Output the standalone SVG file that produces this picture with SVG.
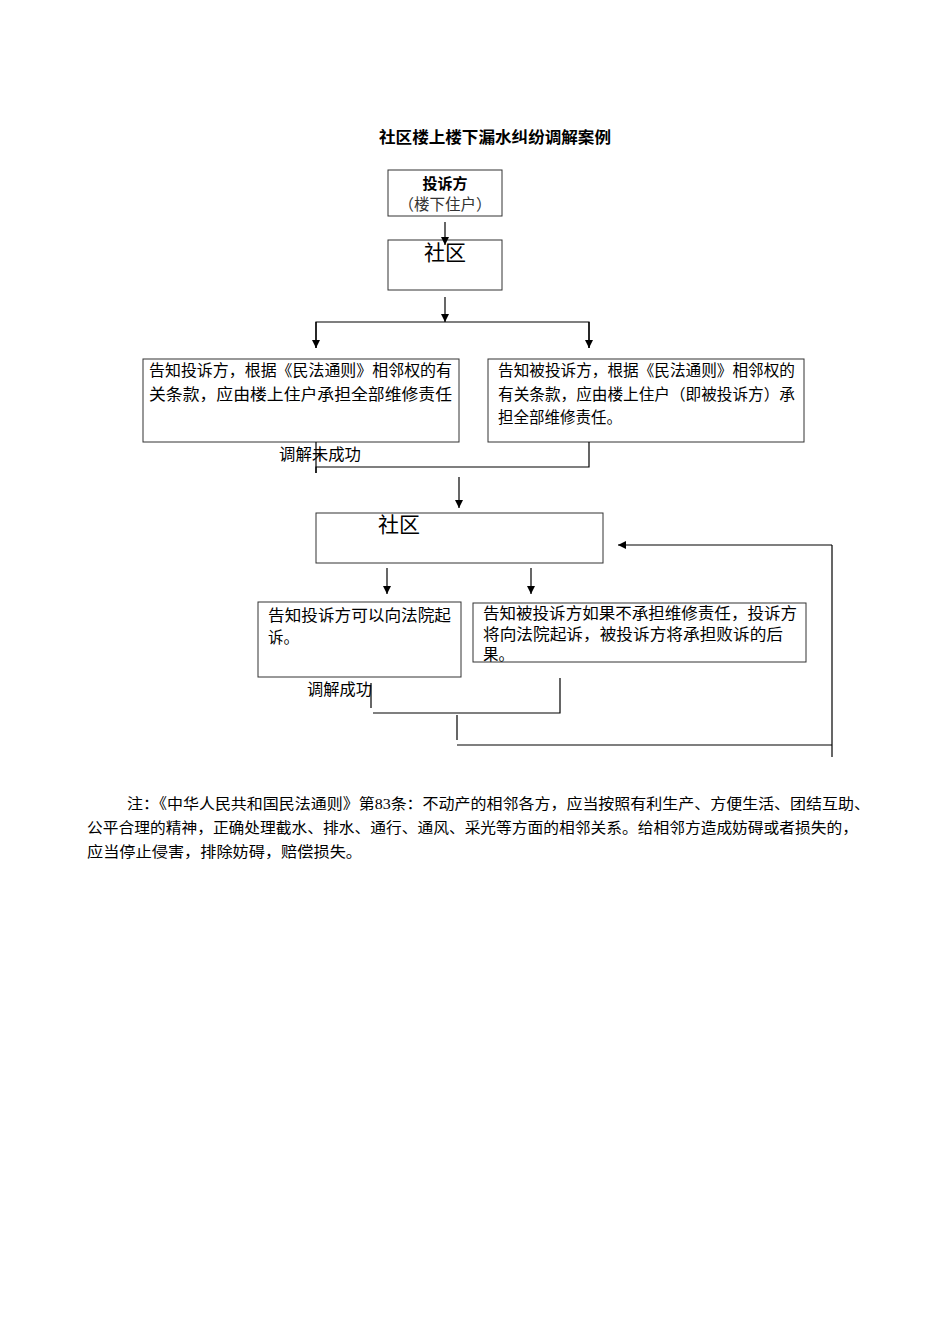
<svg xmlns="http://www.w3.org/2000/svg" width="950" height="1344" viewBox="0 0 950 1344">
<style>
text{font-family:"Liberation Serif","Noto Sans CJK SC",serif;fill:#000}
.t{font-size:15.5px}
.big{font-size:21px;font-family:"Liberation Sans","Noto Sans CJK SC",sans-serif}
.box{fill:#fff;stroke:#333;stroke-width:1}
.ln{fill:none;stroke:#000;stroke-width:1.2}
</style>
<defs>
<marker id="ah" viewBox="0 0 10 10" refX="10" refY="5" markerWidth="8" markerHeight="8" orient="auto" markerUnits="userSpaceOnUse"><path d="M0,0 L10,5 L0,10 Z" fill="#000"/></marker>
</defs>
<rect width="950" height="1344" fill="#fff"/>
<text x="379" y="143" textLength="232" lengthAdjust="spacingAndGlyphs" style="font-size:16px;font-weight:bold;font-family:'Liberation Sans','Noto Sans CJK SC',sans-serif">社区楼上楼下漏水纠纷调解案例</text>
<g id="n1"><rect class="box" x="388" y="170" width="114" height="46"/><text x="445" y="189" text-anchor="middle" style="font-size:15px;font-weight:bold;font-family:'Liberation Sans','Noto Sans CJK SC',sans-serif">投诉方</text><text x="445" y="210" text-anchor="middle" class="t" style="fill:#333">（楼下住户）</text></g>
<g id="n2"><rect class="box" x="388" y="240" width="114" height="50"/><text x="424" y="260" class="big">社区</text></g>
<g id="n3"><rect class="box" x="143" y="359" width="316" height="83"/><text x="149" y="376" class="t" textLength="303" lengthAdjust="spacingAndGlyphs">告知投诉方，根据《民法通则》相邻权的有</text><text x="149" y="400" class="t" textLength="303" lengthAdjust="spacingAndGlyphs">关条款，应由楼上住户承担全部维修责任</text></g>
<g id="n4"><rect class="box" x="488" y="359" width="316" height="83"/><text x="498" y="376" class="t" textLength="297" lengthAdjust="spacingAndGlyphs">告知被投诉方，根据《民法通则》相邻权的</text><text x="498" y="400" class="t" textLength="297" lengthAdjust="spacingAndGlyphs">有关条款，应由楼上住户（即被投诉方）承</text><text x="498" y="423" class="t">担全部维修责任。</text></g>
<g id="n5"><rect class="box" x="316" y="513" width="287" height="50"/><text x="378" y="532" class="big">社区</text></g>
<g id="n6"><rect class="box" x="258" y="602" width="203" height="75"/><text x="268" y="621" class="t" textLength="183" lengthAdjust="spacingAndGlyphs">告知投诉方可以向法院起</text><text x="268" y="643" class="t">诉。</text></g>
<g id="n7"><rect class="box" x="473" y="603" width="333" height="59"/><text x="483" y="619" class="t" textLength="314" lengthAdjust="spacingAndGlyphs">告知被投诉方如果不承担维修责任，投诉方</text><text x="483" y="640" class="t" textLength="300" lengthAdjust="spacingAndGlyphs">将向法院起诉，被投诉方将承担败诉的后</text><text x="483" y="660" class="t">果。</text></g>
<g id="labels"><text x="279" y="460" class="t" textLength="82" lengthAdjust="spacingAndGlyphs">调解未成功</text><text x="307" y="695" class="t" textLength="65" lengthAdjust="spacingAndGlyphs">调解成功</text></g>
<g id="connectors">
<line class="ln" x1="445" y1="222" x2="445" y2="245" marker-end="url(#ah)"/>
<line class="ln" x1="445" y1="297" x2="445" y2="322" marker-end="url(#ah)"/>
<polyline class="ln" points="316,348 316,322 589,322 589,348"/>
<line class="ln" x1="316" y1="322" x2="316" y2="348" marker-end="url(#ah)"/>
<line class="ln" x1="589" y1="322" x2="589" y2="348" marker-end="url(#ah)"/>
<polyline class="ln" points="316,473 316,467 589,467 589,442"/>
<line class="ln" x1="316" y1="442" x2="316" y2="473"/>
<line class="ln" x1="459" y1="477" x2="459" y2="508" marker-end="url(#ah)"/>
<line class="ln" x1="387" y1="568" x2="387" y2="594" marker-end="url(#ah)"/>
<line class="ln" x1="531" y1="568" x2="531" y2="594" marker-end="url(#ah)"/>
<line class="ln" x1="371" y1="683" x2="371" y2="708"/>
<polyline class="ln" points="373,713 560,713 560,678"/>
<line class="ln" x1="457" y1="715" x2="457" y2="740"/>
<polyline class="ln" points="457,745 832,745"/>
<line class="ln" x1="832" y1="757" x2="832" y2="545"/>
<line class="ln" x1="832" y1="545" x2="618" y2="545" marker-end="url(#ah)"/>
</g>
<g id="note" style="font-size:15px">
<text x="127" y="809" textLength="743" lengthAdjust="spacingAndGlyphs">注：《中华人民共和国民法通则》第83条：不动产的相邻各方，应当按照有利生产、方便生活、团结互助、</text>
<text x="87" y="833" textLength="771" lengthAdjust="spacingAndGlyphs">公平合理的精神，正确处理截水、排水、通行、通风、采光等方面的相邻关系。给相邻方造成妨碍或者损失的，</text>
<text x="87" y="857" textLength="275" lengthAdjust="spacingAndGlyphs">应当停止侵害，排除妨碍，赔偿损失。</text>
</g>
</svg>
